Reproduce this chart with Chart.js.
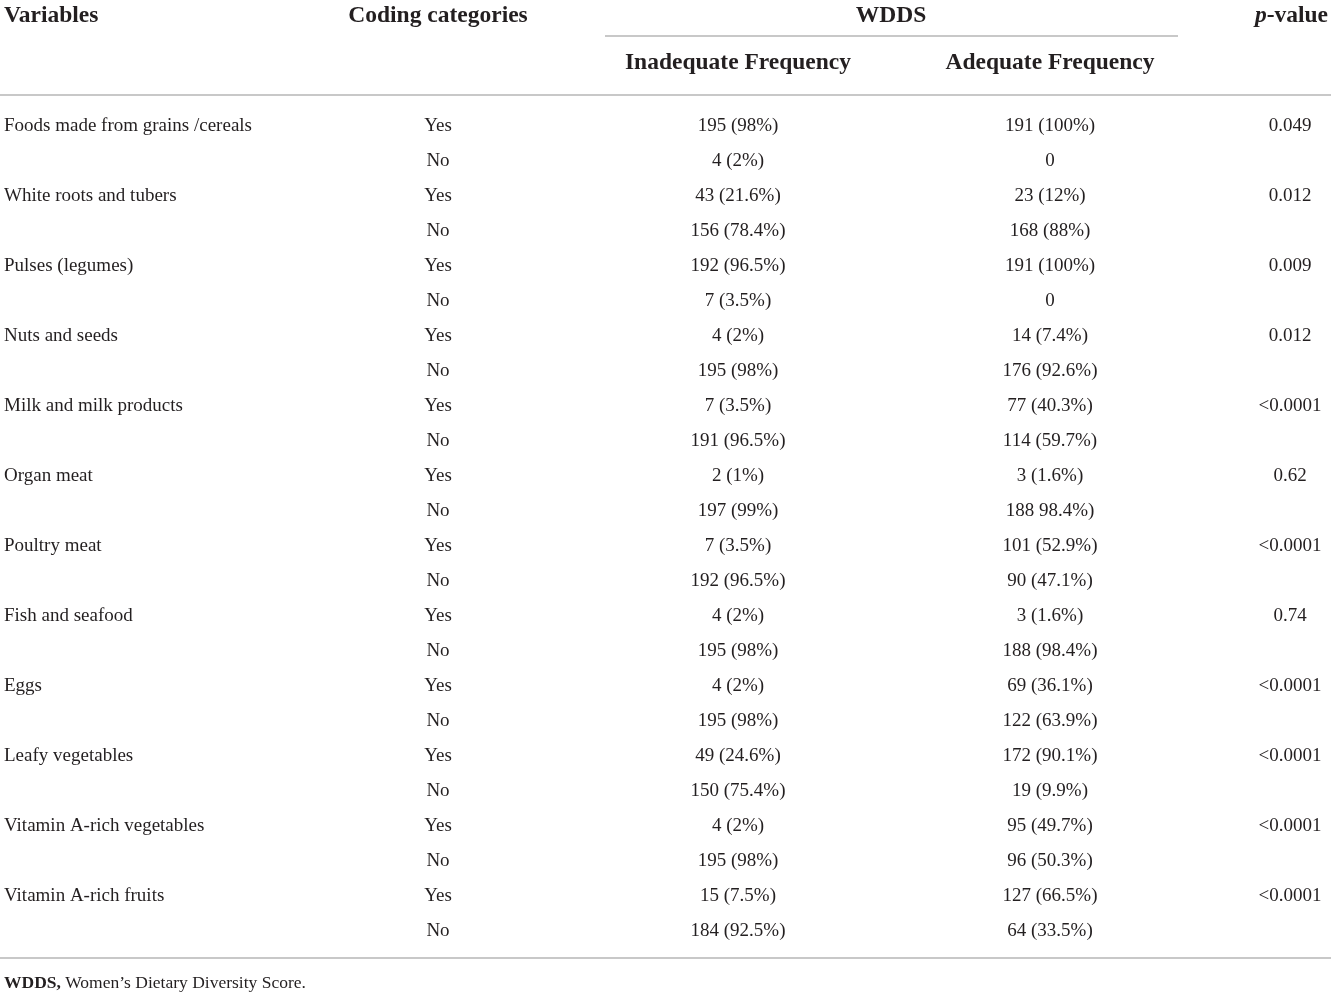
<!DOCTYPE html>
<html>
<head>
<meta charset="utf-8">
<title>WDDS food groups</title>
<script src="https://cdn.jsdelivr.net/npm/chart.js@4.4.1/dist/chart.umd.min.js"></script>
<style>
  html, body { margin: 0; padding: 0; background: #fff; }
  #wrap { width: 1331px; height: 993px; position: relative; }
</style>
</head>
<body>
<div id="wrap"><canvas id="table"></canvas></div>
<script>
// table content
const variables = [
  "Foods made from grains /cereals", "White roots and tubers", "Pulses (legumes)",
  "Nuts and seeds", "Milk and milk products", "Organ meat", "Poultry meat",
  "Fish and seafood", "Eggs", "Leafy vegetables", "Vitamin A-rich vegetables",
  "Vitamin A-rich fruits"
];
const codingCategories = ["Yes", "No"];
const inadequateFreq = [
  "195 (98%)", "4 (2%)", "43 (21.6%)", "156 (78.4%)", "192 (96.5%)", "7 (3.5%)",
  "4 (2%)", "195 (98%)", "7 (3.5%)", "191 (96.5%)", "2 (1%)", "197 (99%)",
  "7 (3.5%)", "192 (96.5%)", "4 (2%)", "195 (98%)", "4 (2%)", "195 (98%)",
  "49 (24.6%)", "150 (75.4%)", "4 (2%)", "195 (98%)", "15 (7.5%)", "184 (92.5%)"
];
const adequateFreq = [
  "191 (100%)", "0", "23 (12%)", "168 (88%)", "191 (100%)", "0",
  "14 (7.4%)", "176 (92.6%)", "77 (40.3%)", "114 (59.7%)", "3 (1.6%)", "188 98.4%)",
  "101 (52.9%)", "90 (47.1%)", "3 (1.6%)", "188 (98.4%)", "69 (36.1%)", "122 (63.9%)",
  "172 (90.1%)", "19 (9.9%)", "95 (49.7%)", "96 (50.3%)", "127 (66.5%)", "64 (33.5%)"
];
const pValues = [
  "0.049", "0.012", "0.009", "0.012", "<0.0001", "0.62",
  "<0.0001", "0.74", "<0.0001", "<0.0001", "<0.0001", "<0.0001"
];
const headerLabels = ["Variables", "Coding categories", "WDDS", "Inadequate Frequency", "Adequate Frequency"];
const footnoteBold = "WDDS,";
const footnoteText = " Women\u2019s Dietary Diversity Score.";

// layout (scale units: x in px across, y in row units)
const COL_X = { variable: 4, coding: 438, inadequate: 738, adequate: 1050, pvalue: 1290 };
const Y_MIN = -124 / 35, Y_MAX = (993 - 124) / 35;
const HEAD_ROW = -3.14, SUB_ROW = -1.8, WDDS_RULE = -2.514, HEAD_RULE = -0.829;
const FOOT_RULE = 23.83, FOOT_ROW = 24.49;
const TEXT = "#231f20", RULE = "#c8c8c8";
const BODY_FONT = "19px 'Liberation Serif', serif";
const HEAD_FONT = "bold 23.5px 'Liberation Serif', serif";
const NUDGE = 2; // serif caps sit a bit high with "middle" baseline

const nRows = variables.length * codingCategories.length;
const rowIdx = Array.from({ length: nRows }, (_, i) => i);

const cellPlugin = {
  id: "cells",
  afterDatasetsDraw(chart) {
    const ctx = chart.ctx;
    const xs = chart.scales.x, ys = chart.scales.y;
    ctx.save();
    ctx.fillStyle = TEXT;
    ctx.textBaseline = "middle";

    // body cells, placed where the library put each (invisible) point
    ctx.font = BODY_FONT;
    chart.data.datasets.forEach((ds, di) => {
      const meta = chart.getDatasetMeta(di);
      ctx.textAlign = ds.align;
      meta.data.forEach((pt, i) => {
        const txt = ds.texts[i];
        if (txt) ctx.fillText(txt, pt.x, pt.y + NUDGE);
      });
    });

    // header
    ctx.font = HEAD_FONT;
    const yHead = ys.getPixelForValue(HEAD_ROW) + NUDGE;
    const ySub = ys.getPixelForValue(SUB_ROW) + NUDGE;
    ctx.textAlign = "left";
    ctx.fillText(headerLabels[0], xs.getPixelForValue(COL_X.variable), yHead);
    ctx.textAlign = "center";
    ctx.fillText(headerLabels[1], xs.getPixelForValue(COL_X.coding), yHead);
    ctx.fillText(headerLabels[2], xs.getPixelForValue(891), yHead);
    ctx.fillText(headerLabels[3], xs.getPixelForValue(COL_X.inadequate), ySub);
    ctx.fillText(headerLabels[4], xs.getPixelForValue(COL_X.adequate), ySub);
    // p-value: italic p + bold "-value", right aligned
    ctx.textAlign = "right";
    const rest = "-value";
    const xRight = xs.getPixelForValue(1328);
    ctx.fillText(rest, xRight, yHead);
    const wRest = ctx.measureText(rest).width;
    ctx.font = "bold italic 23.5px 'Liberation Serif', serif";
    ctx.fillText("p", xRight - wRest, yHead);

    // rules
    ctx.strokeStyle = RULE;
    ctx.lineWidth = 2;
    const rule = (x0, x1, v) => {
      const y = Math.round(ys.getPixelForValue(v));
      ctx.beginPath();
      ctx.moveTo(xs.getPixelForValue(x0), y);
      ctx.lineTo(xs.getPixelForValue(x1), y);
      ctx.stroke();
    };
    rule(605, 1178, WDDS_RULE);
    rule(0, 1331, HEAD_RULE);
    rule(0, 1331, FOOT_RULE);

    // footnote
    const yFoot = ys.getPixelForValue(FOOT_ROW) + NUDGE;
    ctx.textAlign = "left";
    ctx.font = "bold 17.5px 'Liberation Serif', serif";
    const xf = xs.getPixelForValue(COL_X.variable);
    ctx.fillText(footnoteBold, xf, yFoot);
    const wb = ctx.measureText(footnoteBold).width;
    ctx.font = "17.5px 'Liberation Serif', serif";
    ctx.fillText(footnoteText, xf + wb, yFoot);
    ctx.restore();
  }
};

function column(xVal, texts, rows, align) {
  return {
    data: rows.map(r => ({ x: xVal, y: r })),
    texts, align,
    pointRadius: 0, pointHoverRadius: 0, showLine: false
  };
}

const yesRows = rowIdx.filter(r => r % 2 === 0);

new Chart(document.getElementById("table"), {
  type: "scatter",
  data: {
    datasets: [
      column(COL_X.variable, variables, yesRows, "left"),
      column(COL_X.coding, rowIdx.map(r => codingCategories[r % 2]), rowIdx, "center"),
      column(COL_X.inadequate, inadequateFreq, rowIdx, "center"),
      column(COL_X.adequate, adequateFreq, rowIdx, "center"),
      column(COL_X.pvalue, pValues, yesRows, "center")
    ]
  },
  options: {
    responsive: true,
    maintainAspectRatio: false,
    animation: false,
    layout: { padding: 0 },
    plugins: { legend: { display: false }, tooltip: { enabled: false } },
    events: [],
    scales: {
      x: { type: "linear", min: 0, max: 1331, display: false },
      y: { type: "linear", min: Y_MIN, max: Y_MAX, reverse: true, display: false }
    }
  },
  plugins: [cellPlugin]
});
</script>
</body>
</html>
